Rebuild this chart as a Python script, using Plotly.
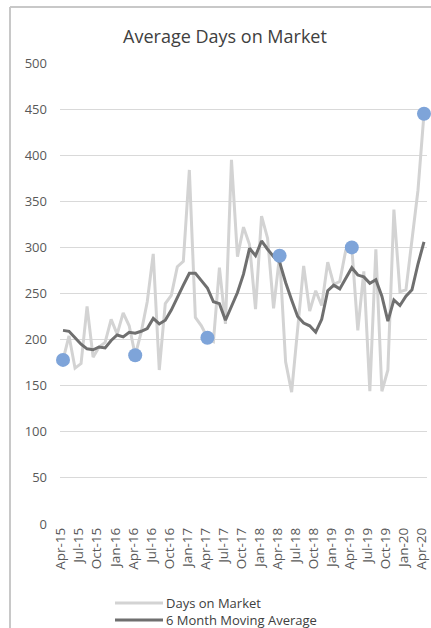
import pandas as pd
import plotly.graph_objects as go

# Monthly labels, Apr-15 through Apr-20
months = [d.strftime("%b-%y") for d in pd.date_range("2015-04-01", "2020-04-01", freq="MS")]

days_on_market = [
    178, 204, 169, 174, 236, 181, 192, 197, 222, 206, 229, 215,
    183, 208, 241, 293, 167, 239, 248, 279, 285, 384, 224, 215,
    202, 198, 278, 217, 395, 290, 322, 303, 233, 334, 310, 234,
    291, 176, 143, 215, 280, 231, 253, 237, 284, 260, 263, 297,
    300, 210, 274, 144, 298, 144, 167, 341, 252, 254, 305, 362,
    445,
]

moving_avg_6m = [
    210, 209, 202, 195, 190, 189, 192, 191, 199, 205, 203, 208,
    207, 209, 212, 223, 217, 221, 232, 246, 259, 272, 272, 264,
    256, 241, 239, 221, 237, 251, 271, 299, 291, 307, 298, 290,
    284, 262, 243, 225, 218, 215, 208, 222, 253, 259, 255, 267,
    278, 270, 268, 261, 265, 247, 220, 243, 237, 247, 254, 282,
    306,
]

series_names = ["Days on Market", "6 Month Moving Average"]
series_colors = ["#d3d3d3", "#6f6f6f"]

# April of each year is highlighted
highlight_idx = [i for i, m in enumerate(months) if m.startswith("Apr")]
tick_idx = list(range(0, len(months), 3))

W, H = 431, 628
L, R, T, B = 60, 4, 63, 104
pw, ph = W - L - R, H - T - B


def px_x(x):
    return (x - L) / pw


def px_y(y):
    return (H - B - y) / ph


fig = go.Figure()
for name, vals, col in zip(series_names, [days_on_market, moving_avg_6m], series_colors):
    fig.add_trace(go.Scatter(
        x=months, y=vals, mode="lines", name=name, showlegend=False,
        line=dict(color=col, width=3),
    ))
fig.add_trace(go.Scatter(
    x=[months[i] for i in highlight_idx],
    y=[days_on_market[i] for i in highlight_idx],
    mode="markers", showlegend=False, cliponaxis=False,
    marker=dict(color="#7ea4d9", size=14),
))

shapes = [
    # outer chart frame (left and top edges)
    dict(type="line", xref="paper", yref="paper",
         x0=px_x(10), x1=px_x(10), y0=px_y(7), y1=px_y(H + 10),
         line=dict(color="#c8c8c8", width=2)),
    dict(type="line", xref="paper", yref="paper",
         x0=px_x(10), x1=px_x(W + 10), y0=px_y(7), y1=px_y(7),
         line=dict(color="#c8c8c8", width=2)),
]
annotations = []
# legend below the axis
for k, (name, col) in enumerate(zip(series_names, series_colors)):
    ly = 603 + 17 * k
    shapes.append(dict(type="line", xref="paper", yref="paper",
                       x0=px_x(115), x1=px_x(163), y0=px_y(ly), y1=px_y(ly),
                       line=dict(color=col, width=3)))
    annotations.append(dict(text=name, xref="paper", yref="paper",
                            x=px_x(164), y=px_y(ly), xanchor="left", yanchor="middle",
                            showarrow=False, font=dict(size=13, color="#404040")))

fig.update_layout(
    width=W, height=H,
    margin=dict(l=L, r=R, t=T, b=B),
    paper_bgcolor="white", plot_bgcolor="white",
    font=dict(family="Open Sans, sans-serif", color="#595959", size=13),
    title=dict(text="Average Days on Market", xref="container", x=225 / W,
               xanchor="center", y=1 - 37 / H, yanchor="middle",
               font=dict(size=18, color="#404040")),
    showlegend=False,
    shapes=shapes,
    annotations=annotations,
)

fig.update_xaxes(
    type="category", range=[-0.5, len(months) - 0.5],
    tickmode="array", tickvals=[months[i] for i in tick_idx],
    ticktext=[months[i] for i in tick_idx],
    tickangle=-90, showgrid=False, zeroline=False, automargin=False,
    showline=False, ticks="", ticklabelshift=-2,
    tickfont=dict(size=13.5, color="#595959"),
)
fig.update_yaxes(
    range=[0, 500], dtick=50, showgrid=True, gridcolor="#d9d9d9",
    gridwidth=1, zeroline=False, showline=False, ticks="", automargin=False,
    tickfont=dict(size=13, color="#595959"), ticklabelstandoff=12,
)

fig.write_html("out.html")
